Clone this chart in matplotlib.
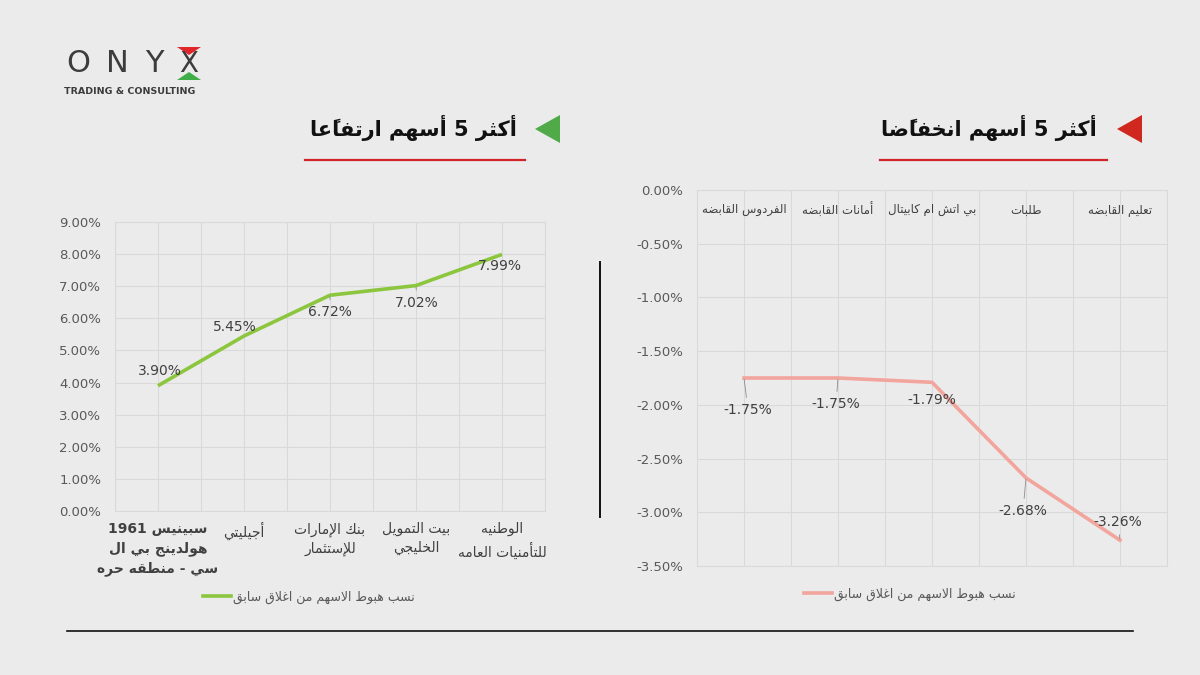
import matplotlib
matplotlib.use("Agg")
import matplotlib.pyplot as plt
from matplotlib.patches import Polygon
from matplotlib.lines import Line2D

# ---- data ----
gain_names = ["سبينيس 1961\nهولدينج بي ال\nسي - منطقه حره", "أجيليتي",
              "بنك الإمارات\nللإستثمار", "بيت التمويل\nالخليجي", "الوطنيه\nللتأمنيات العامه"]
gain_values = [3.90, 5.45, 6.72, 7.02, 7.99]
gain_label_offsets = [(2, 15), (-9, 9), (0, -17), (1, -17), (-2, -12)]
gain_leaders = [False, False, True, True, False]

drop_names = ["الفردوس القابضه", "أمانات القابضه", "بي اتش ام كابيتال", "طلبات", "تعليم القابضه"]
drop_values = [-1.75, -1.75, -1.79, -2.68, -3.26]
drop_label_offsets = [(4, -32), (-2, -26), (0, -18), (-3, -33), (-2, 18)]
drop_leaders = [True, True, False, True, True]

legend_text = "نسب هبوط الاسهم من اغلاق سابق"
title_up = "أكثر 5 أسهم ارتفاعًا"
title_down = "أكثر 5 أسهم انخفاضًا"

BG = "#EBEBEB"
GRID = "#D9D9D9"
TXT = "#595959"
GREEN_LINE = "#8CC63E"
PINK_LINE = "#F2A59C"

# ---- minimal arabic shaping (no reshaper installed) ----
AR = {'ا': (0xFE8D, 2), 'أ': (0xFE83, 2), 'إ': (0xFE87, 2), 'آ': (0xFE81, 2),
      'ب': (0xFE8F, 4), 'ة': (0xFE93, 2), 'ت': (0xFE95, 4), 'ث': (0xFE99, 4),
      'ج': (0xFE9D, 4), 'ح': (0xFEA1, 4), 'خ': (0xFEA5, 4), 'د': (0xFEA9, 2),
      'ذ': (0xFEAB, 2), 'ر': (0xFEAD, 2), 'ز': (0xFEAF, 2), 'س': (0xFEB1, 4),
      'ش': (0xFEB5, 4), 'ص': (0xFEB9, 4), 'ض': (0xFEBD, 4), 'ط': (0xFEC1, 4),
      'ظ': (0xFEC5, 4), 'ع': (0xFEC9, 4), 'غ': (0xFECD, 4), 'ف': (0xFED1, 4),
      'ق': (0xFED5, 4), 'ك': (0xFED9, 4), 'ل': (0xFEDD, 4), 'م': (0xFEE1, 4),
      'ن': (0xFEE5, 4), 'ه': (0xFEE9, 4), 'و': (0xFEED, 2), 'ى': (0xFEEF, 2),
      'ي': (0xFEF1, 4)}
LAMALEF = {'ا': 0xFEFB, 'أ': 0xFEF7, 'إ': 0xFEF9, 'آ': 0xFEF5}
MARKS = set('\u064B\u064C\u064D\u064E\u064F\u0650\u0651\u0652')
LTR = set("0123456789.%,") | set("abcdefghijklmnopqrstuvwxyzABCDEFGHIJKLMNOPQRSTUVWXYZ")


def shape_line(s):
    ch = list(s)
    n = len(ch)

    def joins_prev(k):
        j = k - 1
        while j >= 0 and ch[j] in MARKS:
            j -= 1
        return j >= 0 and ch[j] in AR and AR[ch[j]][1] == 4

    def next_letter(k):
        j = k + 1
        while j < n and ch[j] in MARKS:
            j += 1
        return j if j < n and ch[j] in AR else None

    out = []
    i = 0
    while i < n:
        c = ch[i]
        if c in AR:
            nx = next_letter(i)
            if c == 'ل' and nx is not None and ch[nx] in LAMALEF:
                out.append(chr(LAMALEF[ch[nx]] + (1 if joins_prev(i) else 0)))
                i = nx + 1
                continue
            p = joins_prev(i)
            q = AR[c][1] == 4 and nx is not None
            idx = 3 if (p and q) else 1 if p else 2 if q else 0
            out.append(chr(AR[c][0] + idx))
        else:
            out.append(c)
        i += 1

    # clusters (base + marks), then runs, then reverse for RTL display
    clusters = []
    for c in out:
        if c in MARKS and clusters:
            clusters[-1] += c
        else:
            clusters.append(c)
    runs = []
    for cl in clusters:
        kind = cl[0] in LTR
        if runs and runs[-1][0] == kind:
            runs[-1][1].append(cl)
        else:
            runs.append((kind, [cl]))
    vis = []
    for kind, cls in reversed(runs):
        vis.append("".join(cls) if kind else "".join(reversed(cls)))
    return "".join(vis)


def ar(s):
    return "\n".join(shape_line(line) for line in s.split("\n"))


plt.rcParams['font.family'] = ['DejaVu Sans']

fig = plt.figure(figsize=(12, 6.75), dpi=100, facecolor=BG)


def style_axes(ax):
    ax.set_facecolor(BG)
    for sp in ax.spines.values():
        sp.set_color(GRID)
        sp.set_linewidth(0.8)
    ax.tick_params(axis='both', length=0, colors=TXT, labelsize=9.5)
    ax.tick_params(axis='y', pad=10)
    ax.grid(True, which='both', color=GRID, linewidth=0.8)
    ax.set_axisbelow(True)


# ---- left chart: gainers ----
ax1 = fig.add_axes([115 / 1200, 1 - 511 / 675, 430 / 1200, 289 / 675])
style_axes(ax1)
x1 = list(range(len(gain_values)))
ax1.plot(x1, gain_values, color=GREEN_LINE, lw=2.6, solid_capstyle='butt', zorder=3)
ax1.set_xlim(-0.5, len(gain_values) - 0.5)
ax1.set_ylim(0, 9)
ax1.set_yticks(range(0, 10))
ax1.set_yticklabels([f"{v:.2f}%" for v in range(0, 10)], fontsize=9.5)
ax1.set_xticks([i - 0.5 for i in range(len(gain_values) + 1)])
ax1.set_xticklabels([])
ax1.set_xticks(x1, minor=True)
ax1.set_xticklabels([ar(n) for n in gain_names], minor=True, fontsize=10,
                    linespacing=1.45, color="#404040")
ax1.tick_params(axis='x', which='minor', length=0, pad=8)
ax1.get_xticklabels(minor=True)[0].set_fontweight('bold')
for xi, v, off, lead in zip(x1, gain_values, gain_label_offsets, gain_leaders):
    ax1.annotate(f"{v:.2f}%", (xi, v), xytext=(off[0] * 0.72, off[1] * 0.72),
                 textcoords='offset points', ha='center', va='center',
                 fontsize=10, color="#404040", zorder=4,
                 arrowprops=dict(arrowstyle='-', color="#8C8C8C", lw=0.6,
                                 shrinkA=2, shrinkB=1) if lead else None)
ax1.legend([Line2D([0], [0], color=GREEN_LINE, lw=2.6)], [ar(legend_text)],
           loc='center', bbox_to_anchor=(309 / 1200, 1 - 597 / 675),
           bbox_transform=fig.transFigure, frameon=False, fontsize=9,
           handlelength=2.2, handletextpad=0.2, labelcolor=TXT)

# ---- right chart: losers ----
ax2 = fig.add_axes([697 / 1200, 1 - 566 / 675, 470 / 1200, 376 / 675])
style_axes(ax2)
x2 = list(range(len(drop_values)))
ax2.plot(x2, drop_values, color=PINK_LINE, lw=2.6, zorder=3)
ax2.set_xlim(-0.5, len(drop_values) - 0.5)
ax2.set_ylim(-3.5, 0)
yt = [-3.5 + 0.5 * k for k in range(8)]
ax2.set_yticks(yt)
ax2.set_yticklabels([f"{v:.2f}%" for v in yt], fontsize=9.5)
ax2.set_xticks([i - 0.5 for i in range(len(drop_values) + 1)])
ax2.set_xticklabels([])
ax2.set_xticks(x2, minor=True)
ax2.tick_params(axis='x', which='minor', length=0, labelbottom=False)
for xi, name in zip(x2, drop_names):
    ax2.text(xi, 1 - 20 / 376, ar(name), transform=ax2.get_xaxis_transform(),
             ha='center', va='center', fontsize=8.5, color="#404040")
for xi, v, off, lead in zip(x2, drop_values, drop_label_offsets, drop_leaders):
    ax2.annotate(f"{v:.2f}%", (xi, v), xytext=(off[0] * 0.72, off[1] * 0.72),
                 textcoords='offset points', ha='center', va='center',
                 fontsize=10, color="#404040", zorder=4,
                 arrowprops=dict(arrowstyle='-', color="#8C8C8C", lw=0.6,
                                 shrinkA=2, shrinkB=1) if lead else None)
ax2.legend([Line2D([0], [0], color=PINK_LINE, lw=2.6)], [ar(legend_text)],
           loc='center', bbox_to_anchor=(910 / 1200, 1 - 594 / 675),
           bbox_transform=fig.transFigure, frameon=False, fontsize=9,
           handlelength=2.2, handletextpad=0.2, labelcolor=TXT)


# ---- titles, markers, rules ----
def px(x, y):
    return (x / 1200, 1 - y / 675)


fig.text(*px(517, 128), ar(title_up), ha='right', va='center',
         fontsize=15, fontweight='bold', color="#111111")
fig.text(*px(1097, 128), ar(title_down), ha='right', va='center',
         fontsize=15, fontweight='bold', color="#111111")
fig.add_artist(Polygon([px(535, 129), px(560, 115), px(560, 143)], closed=True,
                       transform=fig.transFigure, color="#4FAA47", lw=0))
fig.add_artist(Polygon([px(1117, 129), px(1142, 115), px(1142, 143)], closed=True,
                       transform=fig.transFigure, color="#D0271F", lw=0))
for x0, x1_ in [(305, 525), (880, 1107)]:
    fig.add_artist(Line2D([x0 / 1200, x1_ / 1200], [1 - 160 / 675] * 2,
                          transform=fig.transFigure, color="#D2232A", lw=1.6))
fig.add_artist(Line2D([600 / 1200] * 2, [1 - 262 / 675, 1 - 517 / 675],
                      transform=fig.transFigure, color="#111111", lw=1.4))
fig.add_artist(Line2D([67 / 1200, 1133 / 1200], [1 - 631 / 675] * 2,
                      transform=fig.transFigure, color="#111111", lw=1.2))

# ---- logo ----
for letter, cx in zip("ONY", [78, 117, 154]):
    fig.text(*px(cx, 64), letter, ha='center', va='center', fontsize=22,
             color="#3C3C3C", fontweight='normal')
fig.add_artist(Polygon([px(177, 47), px(201, 47), px(189, 55)], closed=True,
                       transform=fig.transFigure, color="#E0262B", lw=0))
fig.add_artist(Polygon([px(189, 72), px(177, 80), px(201, 80)], closed=True,
                       transform=fig.transFigure, color="#3FAE49", lw=0))
fig.text(*px(189, 64), "X", ha='center', va='center', fontsize=20,
         color="#3C3C3C", fontweight='normal')
fig.text(*px(130, 92), "TRADING & CONSULTING", ha='center', va='center',
         fontsize=6.8, fontweight='bold', color="#3C3C3C")

fig.savefig("out.png", dpi=100, facecolor=BG)
